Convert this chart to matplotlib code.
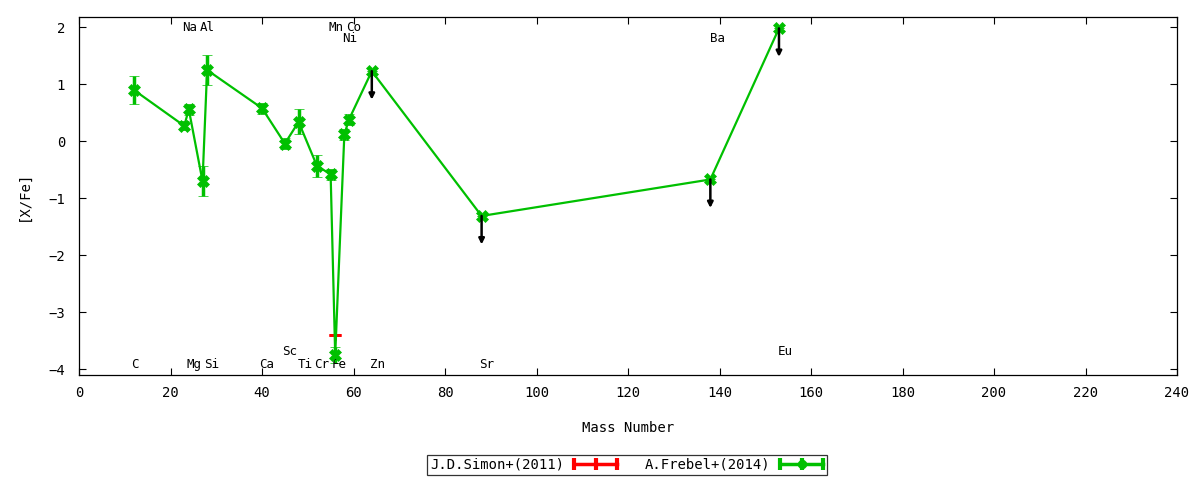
import matplotlib
matplotlib.use("Agg")
import numpy as np
import matplotlib.pyplot as plt
from matplotlib.lines import Line2D
from matplotlib.legend_handler import HandlerBase

# ── Data ────────────────────────────────────────────────────
# A.Frebel+(2014): mass number, [X/Fe], error
frebel_mass = [12, 23, 24, 27, 28, 40, 45, 48, 52, 55, 56, 58, 59, 64, 88, 138, 153]
frebel_val  = [0.90, 0.27, 0.56, -0.70, 1.25, 0.58, -0.04, 0.34, -0.43, -0.58,
               -3.75, 0.12, 0.38, 1.23, -1.31, -0.67, 1.98]
frebel_err  = [0.25, 0.08, 0.10, 0.26, 0.26, 0.10, 0.10, 0.22, 0.19, 0.10,
               0.14, 0.10, 0.10, 0.0, 0.0, 0.0, 0.0]
# upper limits (drawn as downward arrows)
ul_mass = [64, 88, 138, 153]
ul_val  = [1.23, -1.31, -0.67, 1.98]

# J.D.Simon+(2011)
simon_mass = [56]
simon_val  = [-3.40]
simon_err  = [0.0]

# element labels
elements = ["C", "Na", "Mg", "Al", "Si", "Ca", "Sc", "Ti", "Cr", "Mn", "Fe",
            "Ni", "Co", "Zn", "Sr", "Ba", "Eu"]
label_x = [12.3, 24.1, 25.2, 28.0, 28.9, 41.1, 46.1, 49.4, 53.0, 56.2, 56.9,
           59.1, 60.0, 65.2, 89.1, 139.5, 154.4]
label_y = [-3.91, 2.0, -3.91, 2.0, -3.91, -3.91, -3.68, -3.91, -3.91, 2.0, -3.91,
           1.81, 2.0, -3.91, -3.91, 1.81, -3.68]

GREEN = "#00c000"
RED = "#ff0000"
FONT = "DejaVu Sans Mono"
FS = 10

plt.rcParams["font.family"] = FONT
plt.rcParams["font.size"] = FS


class ErrLineHandler(HandlerBase):
    """gnuplot-like errorlines key sample: line, end caps, centre point."""
    def __init__(self, color, marker):
        super().__init__()
        self.color = color
        self.marker = marker

    def create_artists(self, legend, orig_handle, xdescent, ydescent,
                       width, height, fontsize, trans):
        y = height / 2 - ydescent
        x0, x1 = -xdescent, width - xdescent
        xm = (x0 + x1) / 2
        line = Line2D([x0, x1], [y, y], color=self.color, lw=2.5, transform=trans)
        caps = Line2D([x0, xm, x1], [y, y, y], ls="none", marker="|", ms=9,
                      mew=3, color=self.color, transform=trans)
        pts = Line2D([xm], [y], ls="none", marker=self.marker, ms=6,
                     mew=0.5, color=self.color, transform=trans)
        return [line, caps, pts]


fig = plt.figure(figsize=(12, 4.8), dpi=100)
ax = fig.add_axes([79 / 1200, 1 - 375 / 480, (1177 - 79) / 1200, (375 - 17) / 480])

h_simon = ax.errorbar(simon_mass, simon_val, yerr=simon_err, fmt="+", color=RED,
                      ms=7, mew=2, elinewidth=2, capsize=4, capthick=3, zorder=2)
h_frebel = ax.errorbar(frebel_mass, frebel_val, yerr=frebel_err, fmt="-", marker="X",
                       color=GREEN, lw=1.6, ms=8, mew=0.5, elinewidth=2.5, capsize=3.5,
                       capthick=3, zorder=3)

for xm, yv in zip(ul_mass, ul_val):
    ax.annotate("", xy=(xm, yv - 0.5), xytext=(xm, yv),
                arrowprops=dict(arrowstyle="-|>", color="black", lw=1.8,
                                mutation_scale=8, shrinkA=0, shrinkB=0),
                zorder=4)

for name, lx, ly in zip(elements, label_x, label_y):
    ax.text(lx, ly, name, ha="center", va="center", fontsize=9, color="black")

ax.set_xlim(0, 240)
ax.set_ylim(-4.1, 2.18)
ax.set_xticks(np.arange(0, 241, 20))
ax.set_yticks(np.arange(-4, 3, 1))
ax.tick_params(direction="in", length=5, width=0.8, top=True, right=True,
               labelsize=FS, pad=8)
ax.tick_params(axis="y", pad=10)
for s in ax.spines.values():
    s.set_linewidth(0.9)

ax.set_xlabel("Mass Number", fontsize=FS, labelpad=15)
ax.set_ylabel("[X/Fe]", fontsize=FS, labelpad=13)

leg = fig.legend([h_simon, h_frebel], ["J.D.Simon+(2011)", "A.Frebel+(2014)"],
                 handler_map={h_simon: ErrLineHandler(RED, "+"),
                              h_frebel: ErrLineHandler(GREEN, "X")},
                 loc="center", bbox_to_anchor=(627 / 1200, 1 - 465 / 480),
                 ncol=2, markerfirst=False, fancybox=False, frameon=True,
                 edgecolor="black", handlelength=3.1, columnspacing=2.0,
                 borderpad=0.25, handletextpad=0.7, fontsize=FS)
leg.get_frame().set_linewidth(0.9)

fig.savefig("out.png", dpi=100, facecolor="white")
